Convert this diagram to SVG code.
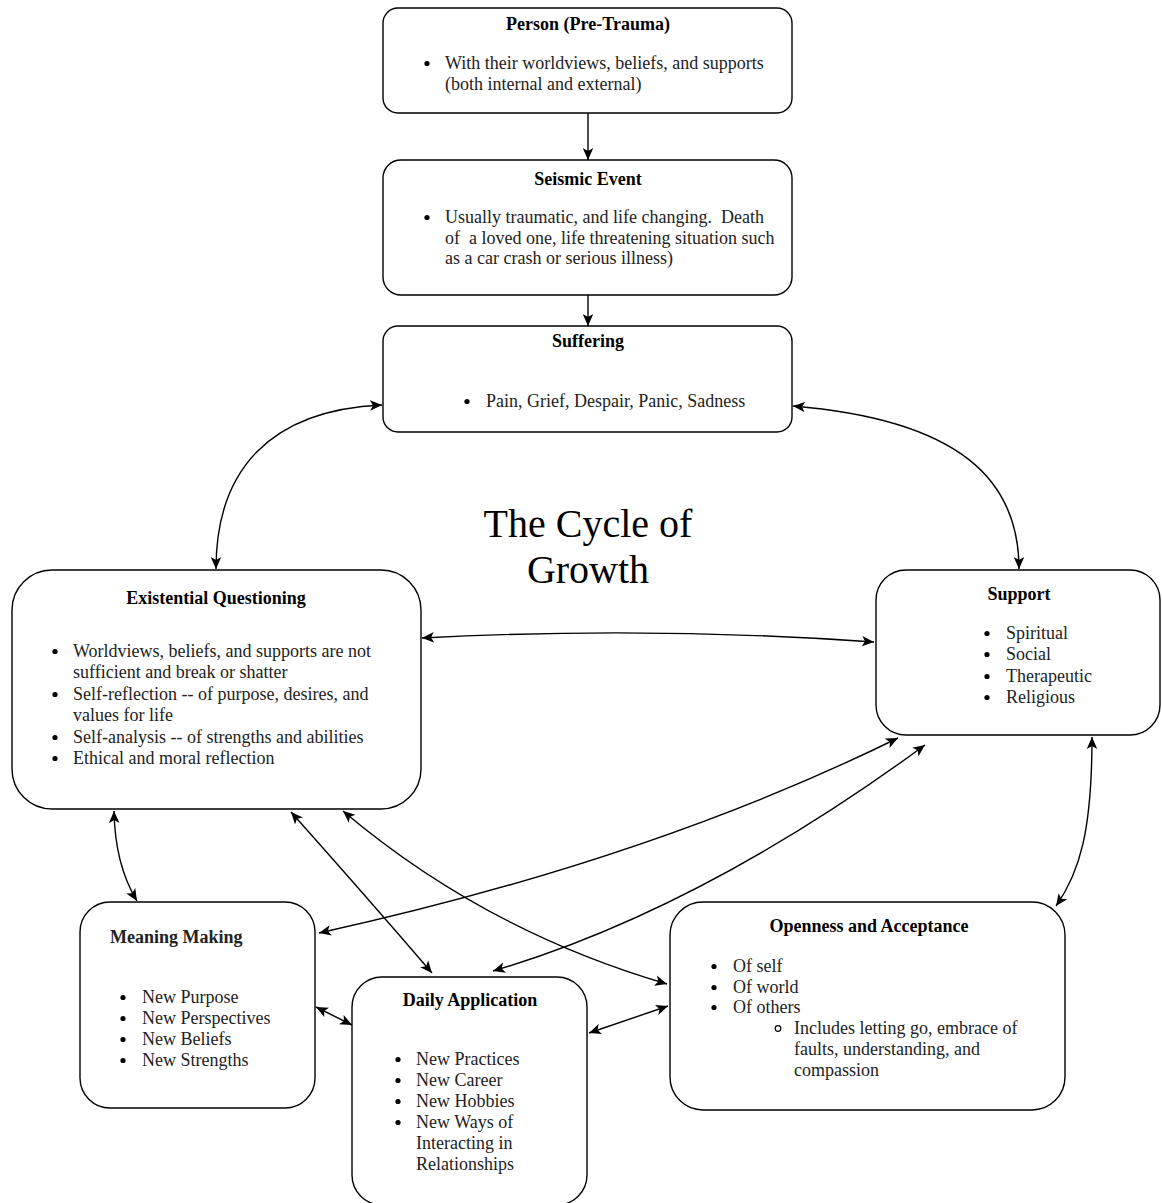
<svg xmlns="http://www.w3.org/2000/svg" width="1162" height="1203" viewBox="0 0 1162 1203">
<defs>
<style>
.box{fill:#fff;stroke:#000;stroke-width:1.4}
.t{font-family:"Liberation Serif","Times New Roman",serif;font-size:18px;fill:#222;white-space:pre}
.h{font-weight:bold;text-anchor:middle;fill:#000}
.title{font-family:"Liberation Serif","Times New Roman",serif;font-size:40px;fill:#000;text-anchor:middle}
.c{fill:none;stroke:#000;stroke-width:1.4}
.d{fill:#000}
.o{fill:none;stroke:#000;stroke-width:1.2}
</style>
<marker id="arr" viewBox="0 0 10 10" refX="10" refY="5" markerWidth="12" markerHeight="12" markerUnits="userSpaceOnUse" orient="auto-start-reverse">
<path d="M0,0.6 L10,5 L0,9.4 L2.5,5 z" fill="#000"/>
</marker>
</defs>
<rect width="1162" height="1203" fill="#fff"/>

<g id="connectors">
<path class="c" d="M588,113 L588,160" marker-end="url(#arr)"/>
<path class="c" d="M588,295 L588,326" marker-end="url(#arr)"/>
<path class="c" d="M382,405 C270,410 216,470 216,569" marker-start="url(#arr)" marker-end="url(#arr)"/>
<path class="c" d="M793,406 C960,420 1019,480 1019,569" marker-start="url(#arr)" marker-end="url(#arr)"/>
<path class="c" d="M422,638 Q650,626 874,642" marker-start="url(#arr)" marker-end="url(#arr)"/>
<path class="c" d="M898,738 Q650,860 319,933" marker-start="url(#arr)" marker-end="url(#arr)"/>
<path class="c" d="M925,745 Q700,910 493,971" marker-start="url(#arr)" marker-end="url(#arr)"/>
<path class="c" d="M291,812 Q365,895 432,973" marker-start="url(#arr)" marker-end="url(#arr)"/>
<path class="c" d="M343,811 Q485,931 667,984" marker-start="url(#arr)" marker-end="url(#arr)"/>
<path class="c" d="M114,811 Q115,865 137,901" marker-start="url(#arr)" marker-end="url(#arr)"/>
<path class="c" d="M1092,737 C1092,830 1080,872 1056,906" marker-start="url(#arr)" marker-end="url(#arr)"/>
<path class="c" d="M316,1007 L352,1025" marker-start="url(#arr)" marker-end="url(#arr)"/>
<path class="c" d="M589,1033 L668,1006" marker-start="url(#arr)" marker-end="url(#arr)"/>
</g>

<g id="person">
<rect class="box" x="383" y="8" width="409" height="105" rx="15"/>
<text class="t h" x="588" y="30">Person (Pre-Trauma)</text>
<circle class="d" cx="427" cy="63.5" r="2.6"/>
<text class="t" x="445" y="69">With their worldviews, beliefs, and supports</text>
<text class="t" x="445" y="90">(both internal and external)</text>
</g>

<g id="seismic">
<rect class="box" x="383" y="160" width="409" height="135" rx="18"/>
<text class="t h" x="588" y="185">Seismic Event</text>
<circle class="d" cx="427" cy="217.5" r="2.6"/>
<text class="t" x="445" y="223">Usually traumatic, and life changing.  Death</text>
<text class="t" x="445" y="244">of  a loved one, life threatening situation such</text>
<text class="t" x="445" y="264">as a car crash or serious illness)</text>
</g>

<g id="suffering">
<rect class="box" x="383" y="326" width="409" height="106" rx="15"/>
<text class="t h" x="588" y="347">Suffering</text>
<circle class="d" cx="467" cy="401.5" r="2.6"/>
<text class="t" x="486" y="407">Pain, Grief, Despair, Panic, Sadness</text>
</g>

<text class="title" x="588" y="537">The Cycle of</text>
<text class="title" x="588" y="583">Growth</text>

<g id="existential">
<rect class="box" x="12" y="570" width="409" height="239" rx="40"/>
<text class="t h" x="216" y="604">Existential Questioning</text>
<circle class="d" cx="55" cy="651.5" r="2.6"/>
<circle class="d" cx="55" cy="694.5" r="2.6"/>
<circle class="d" cx="55" cy="737.5" r="2.6"/>
<circle class="d" cx="55" cy="758.5" r="2.6"/>
<text class="t" x="73" y="657">Worldviews, beliefs, and supports are not</text>
<text class="t" x="73" y="678">sufficient and break or shatter</text>
<text class="t" x="73" y="700">Self-reflection -- of purpose, desires, and</text>
<text class="t" x="73" y="721">values for life</text>
<text class="t" x="73" y="743">Self-analysis -- of strengths and abilities</text>
<text class="t" x="73" y="764">Ethical and moral reflection</text>
</g>

<g id="support">
<rect class="box" x="876" y="570" width="284" height="165" rx="30"/>
<text class="t h" x="1019" y="600">Support</text>
<circle class="d" cx="987" cy="633.5" r="2.6"/>
<circle class="d" cx="987" cy="654.5" r="2.6"/>
<circle class="d" cx="987" cy="676.5" r="2.6"/>
<circle class="d" cx="987" cy="697.5" r="2.6"/>
<text class="t" x="1006" y="639">Spiritual</text>
<text class="t" x="1006" y="660">Social</text>
<text class="t" x="1006" y="682">Therapeutic</text>
<text class="t" x="1006" y="703">Religious</text>
</g>

<g id="meaning">
<rect class="box" x="80" y="902" width="235" height="206" rx="30"/>
<text class="t" x="110" y="943" font-weight="bold" fill="#000">Meaning Making</text>
<circle class="d" cx="123" cy="997.5" r="2.6"/>
<circle class="d" cx="123" cy="1018.5" r="2.6"/>
<circle class="d" cx="123" cy="1039.5" r="2.6"/>
<circle class="d" cx="123" cy="1060.5" r="2.6"/>
<text class="t" x="142" y="1003">New Purpose</text>
<text class="t" x="142" y="1024">New Perspectives</text>
<text class="t" x="142" y="1045">New Beliefs</text>
<text class="t" x="142" y="1066">New Strengths</text>
</g>

<g id="daily">
<rect class="box" x="352" y="977" width="235" height="228" rx="30"/>
<text class="t h" x="470" y="1006">Daily Application</text>
<circle class="d" cx="398" cy="1059.5" r="2.6"/>
<circle class="d" cx="398" cy="1080.5" r="2.6"/>
<circle class="d" cx="398" cy="1101.5" r="2.6"/>
<circle class="d" cx="398" cy="1122.5" r="2.6"/>
<text class="t" x="416" y="1065">New Practices</text>
<text class="t" x="416" y="1086">New Career</text>
<text class="t" x="416" y="1107">New Hobbies</text>
<text class="t" x="416" y="1128">New Ways of</text>
<text class="t" x="416" y="1149">Interacting in</text>
<text class="t" x="416" y="1170">Relationships</text>
</g>

<g id="openness">
<rect class="box" x="670" y="902" width="395" height="208" rx="33"/>
<text class="t h" x="869" y="932">Openness and Acceptance</text>
<circle class="d" cx="714" cy="966.5" r="2.6"/>
<circle class="d" cx="714" cy="987.5" r="2.6"/>
<circle class="d" cx="714" cy="1007.5" r="2.6"/>
<circle class="o" cx="778" cy="1028.5" r="2.8"/>
<text class="t" x="733" y="972">Of self</text>
<text class="t" x="733" y="993">Of world</text>
<text class="t" x="733" y="1013">Of others</text>
<text class="t" x="794" y="1034">Includes letting go, embrace of</text>
<text class="t" x="794" y="1055">faults, understanding, and</text>
<text class="t" x="794" y="1076">compassion</text>
</g>
</svg>
